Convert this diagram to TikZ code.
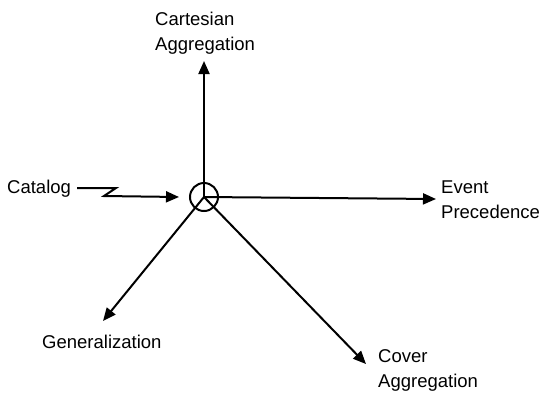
\documentclass[tikz,border=0pt]{standalone}
\usepackage{fontspec}
\setmainfont{Liberation Sans}
\usetikzlibrary{arrows.meta}
\begin{document}
\begin{tikzpicture}[x=1pt,y=-1pt,
  lbl/.style={anchor=base west,inner sep=0pt,align=left,font=\fontsize{18.5}{25}\selectfont},
  link/.style={line width=2pt,-{Triangle[length=13pt,width=11pt]}},
  hub/.style={circle,draw,line width=2pt,minimum size=28pt,inner sep=0pt}]
\useasboundingbox (0,0) rectangle (543,392);
\node[hub] (c) at (204,197) {};
\coordinate (tcart) at (204,61);
\coordinate (tev) at (436,199);
\coordinate (tgen) at (103,321);
\coordinate (tcov) at (366,364);
\coordinate (tcat) at (179,197);
\coordinate (z1) at (77,188);
\coordinate (z2) at (116,188);
\coordinate (z3) at (104,196);
\node[lbl] (cart) at (155,50) {Cartesian\\Aggregation};
\node[lbl] (ev) at (441,218) {Event\\Precedence};
\node[lbl] (gen) at (42,348) {Generalization};
\node[lbl] (cov) at (378,387) {Cover\\Aggregation};
\node[lbl] (cat) at (7,193) {Catalog};
\draw[link] (c.center) -- (tcart);
\draw[link] (c.center) -- (tev);
\draw[link] (c.center) -- (tgen);
\draw[link] (c.center) -- (tcov);
\draw[link] (z1) -- (z2) -- (z3) -- (tcat);
\end{tikzpicture}
\end{document}
